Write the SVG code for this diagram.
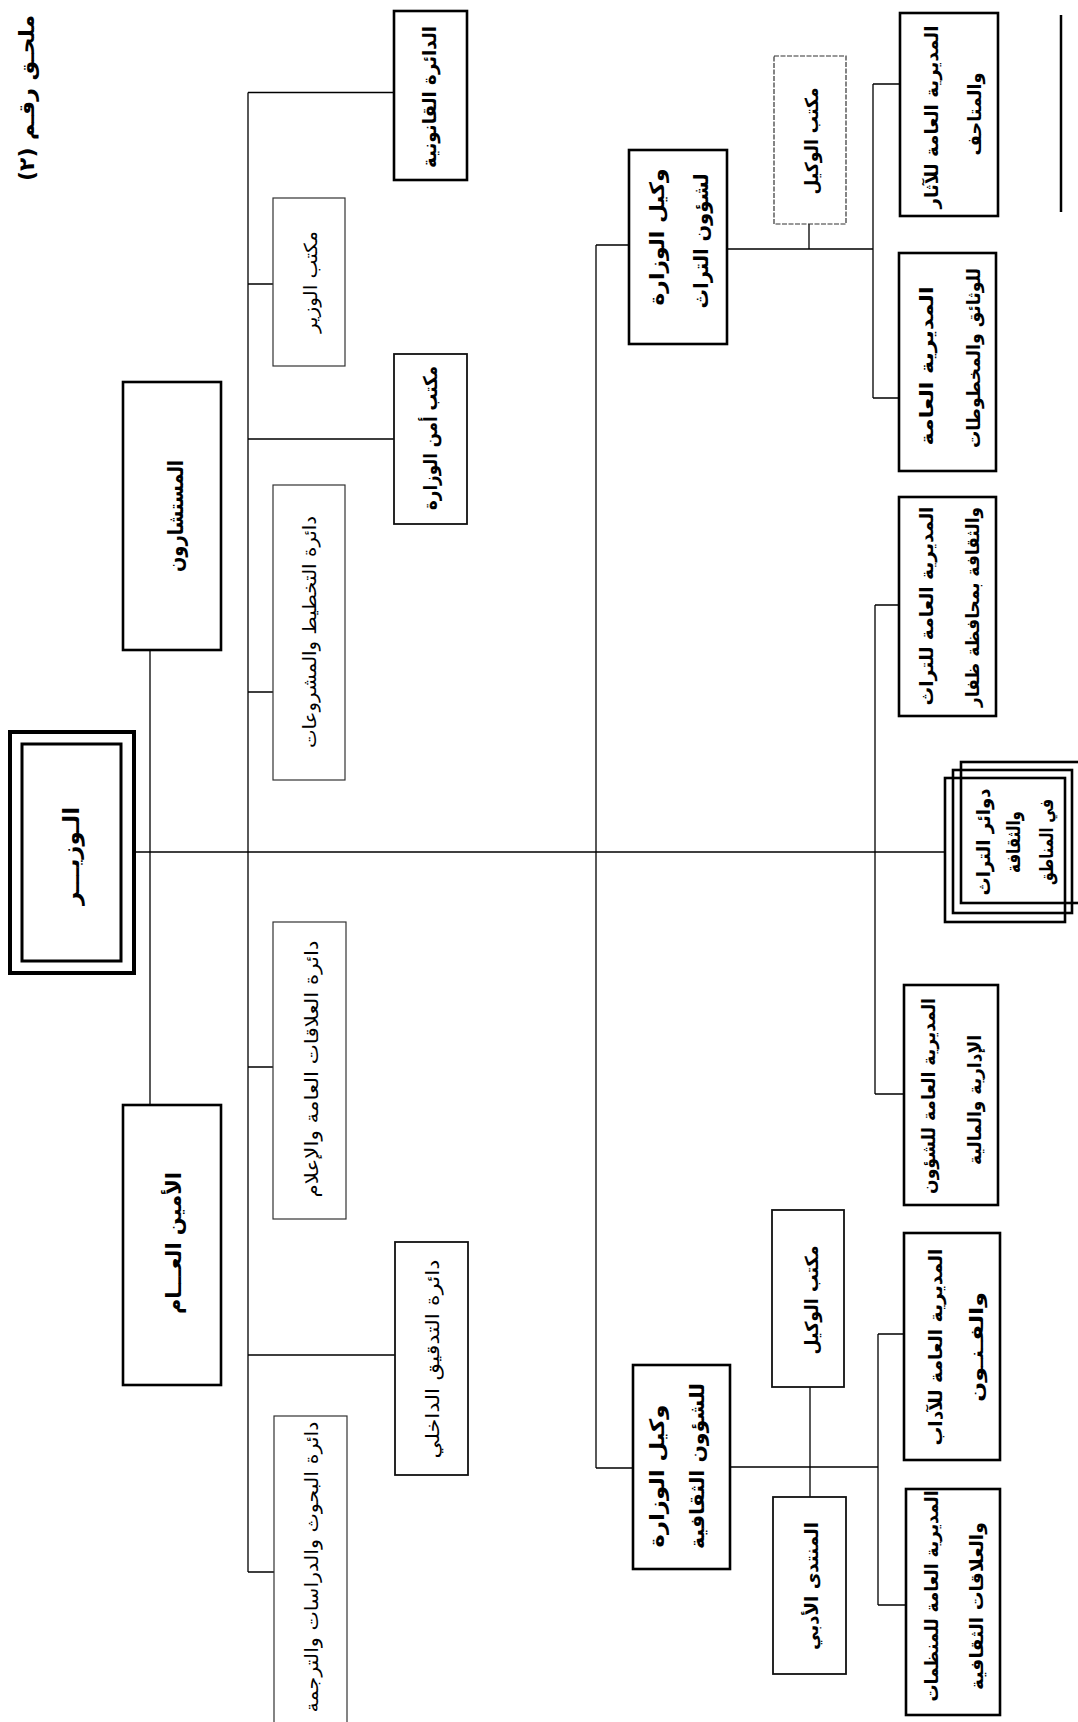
<svg xmlns="http://www.w3.org/2000/svg" width="1078" height="1722" viewBox="0 0 1078 1722">
<style>
.t{font-family:"DejaVu Sans",sans-serif;font-size:18px;fill:#000;text-anchor:middle;dominant-baseline:central;direction:rtl;unicode-bidi:embed}
.b{font-weight:bold}
.thick{fill:none;stroke:#000;stroke-width:2.6}
.med{fill:none;stroke:#111;stroke-width:1.8}
.thin{fill:none;stroke:#333;stroke-width:1.2}
.c{fill:none;stroke:#000;stroke-width:1.3}
</style>
<rect width="1078" height="1722" fill="#fff"/>
<g id="connectors">
<path class="c" d="M248,92.5 V1572 M248,92.5 H394 M248,284 H273 M248,439 H394 M248,692 H273 M248,1067 H273 M248,1355 H395 M248,1572 H274"/>
<path class="c" d="M150,650 V1105"/>
<path class="c" d="M134,852 H944"/>
<path class="c" d="M596,245 V1468 M596,245 H629 M596,1468 H633"/>
<path class="c" d="M727,249 H873 M809,224 V249 M873,84 V398 M873,84 H900 M873,398 H899"/>
<path class="c" d="M875,605 V1094 M875,605 H899 M875,1094 H904"/>
<path class="c" d="M730,1467 H878 M810,1387 V1497 M878,1334 V1605 M878,1334 H904 M878,1605 H906"/>
</g>
<g id="heading"><text class="t b" style="font-size:21px" x="27" y="98" transform="rotate(-90 27 98)" textLength="166" lengthAdjust="spacingAndGlyphs">ملحـق رقـم (٢)</text></g>
<g id="n-qanuni"><rect class="thick" x="394" y="11" width="73" height="169"/><text class="t b" style="font-size:19px" x="429" y="97" transform="rotate(-90 429 97)" textLength="142" lengthAdjust="spacingAndGlyphs">الدائرة القانونية</text></g>
<g id="n-office-minister"><rect class="thin" x="273" y="198" width="72" height="168"/><text class="t" x="310" y="282" transform="rotate(-90 310 282)" textLength="102" lengthAdjust="spacingAndGlyphs">مكتب الوزير</text></g>
<g id="n-advisors"><rect class="thick" x="123" y="382" width="98" height="268"/><text class="t b" style="font-size:21px" x="176" y="516" transform="rotate(-90 176 516)" textLength="112" lengthAdjust="spacingAndGlyphs">المستشارون</text></g>
<g id="n-security"><rect class="med" x="394" y="354" width="73" height="170"/><text class="t b" style="font-size:19px" x="430" y="438" transform="rotate(-90 430 438)" textLength="144" lengthAdjust="spacingAndGlyphs">مكتب أمن الوزارة</text></g>
<g id="n-planning"><rect class="thin" x="273" y="485" width="72" height="295"/><text class="t" x="309" y="632" transform="rotate(-90 309 632)" textLength="232" lengthAdjust="spacingAndGlyphs">دائرة التخطيط والمشروعات</text></g>
<g id="n-minister"><rect fill="none" stroke="#000" stroke-width="4" x="10" y="732" width="124" height="241"/><rect fill="none" stroke="#000" stroke-width="3" x="22" y="744" width="99" height="217"/><text class="t b" style="font-size:22px" x="71" y="856" transform="rotate(-90 71 856)" textLength="98" lengthAdjust="spacingAndGlyphs">الـوزيـــر</text></g>
<g id="n-relations"><rect class="thin" x="273" y="922" width="73" height="297"/><text class="t" x="311" y="1069" transform="rotate(-90 311 1069)" textLength="257" lengthAdjust="spacingAndGlyphs">دائرة العلاقات العامة والإعلام</text></g>
<g id="n-amin"><rect class="thick" x="123" y="1105" width="98" height="280"/><text class="t b" style="font-size:21px" x="174" y="1243" transform="rotate(-90 174 1243)" textLength="142" lengthAdjust="spacingAndGlyphs">الأمين العـــام</text></g>
<g id="n-audit"><rect class="med" x="395" y="1242" width="73" height="233"/><text class="t" x="432" y="1359" transform="rotate(-90 432 1359)" textLength="199" lengthAdjust="spacingAndGlyphs">دائرة التدقيق الداخلي</text></g>
<g id="n-research"><rect class="thin" x="274" y="1416" width="73" height="330"/><text class="t" x="311" y="1567" transform="rotate(-90 311 1567)" textLength="291" lengthAdjust="spacingAndGlyphs">دائرة البحوث والدراسات والترجمة</text></g>
<g id="n-wakil-heritage"><rect class="thick" x="629" y="150" width="98" height="194"/><text class="t b" style="font-size:20px" x="657" y="237" transform="rotate(-90 657 237)" textLength="137" lengthAdjust="spacingAndGlyphs">وكيل الوزارة</text><text class="t b" style="font-size:20px" x="701" y="241" transform="rotate(-90 701 241)" textLength="135" lengthAdjust="spacingAndGlyphs">لشؤون التراث</text></g>
<g id="n-office-wakil1"><rect class="thin" x="774" y="56" width="72" height="168" stroke-dasharray="5 1.5"/><text class="t b" x="811" y="141" transform="rotate(-90 811 141)" textLength="107" lengthAdjust="spacingAndGlyphs">مكتب الوكيل</text></g>
<g id="n-athar"><rect class="thick" x="900" y="13" width="98" height="203"/><text class="t b" x="931" y="117" transform="rotate(-90 931 117)" textLength="183" lengthAdjust="spacingAndGlyphs">المديرية العامة للآثار</text><text class="t b" x="974" y="114" transform="rotate(-90 974 114)" textLength="83" lengthAdjust="spacingAndGlyphs">والمتاحف</text></g>
<g id="n-wathaiq"><rect class="thick" x="899" y="253" width="97" height="218"/><text class="t b" x="926" y="366" transform="rotate(-90 926 366)" textLength="159" lengthAdjust="spacingAndGlyphs">المديرية العامة</text><text class="t b" x="973" y="358" transform="rotate(-90 973 358)" textLength="180" lengthAdjust="spacingAndGlyphs">للوثائق والمخطوطات</text></g>
<g id="n-dhofar"><rect class="thick" x="899" y="497" width="97" height="219"/><text class="t b" x="926" y="606" transform="rotate(-90 926 606)" textLength="199" lengthAdjust="spacingAndGlyphs">المديرية العامة للتراث</text><text class="t b" x="972" y="607" transform="rotate(-90 972 607)" textLength="200" lengthAdjust="spacingAndGlyphs">والثقافة بمحافظة ظفار</text></g>
<g id="n-regions"><rect class="thick" x="961" y="762" width="130" height="141"/><rect class="thick" x="953" y="770" width="119" height="143"/><rect class="thick" x="945" y="778" width="120" height="144"/><text class="t b" style="font-size:19px" x="983" y="842" transform="rotate(-90 983 842)" textLength="107" lengthAdjust="spacingAndGlyphs">دوائر التراث</text><text class="t b" style="font-size:19px" x="1013" y="842" transform="rotate(-90 1013 842)" textLength="62" lengthAdjust="spacingAndGlyphs">والثقافة</text><text class="t b" style="font-size:19px" x="1046" y="842" transform="rotate(-90 1046 842)" textLength="86" lengthAdjust="spacingAndGlyphs">في المناطق</text></g>
<g id="n-idariya"><rect class="thick" x="904" y="985" width="94" height="220"/><text class="t b" x="928" y="1096" transform="rotate(-90 928 1096)" textLength="196" lengthAdjust="spacingAndGlyphs">المديرية العامة للشؤون</text><text class="t b" x="974" y="1100" transform="rotate(-90 974 1100)" textLength="130" lengthAdjust="spacingAndGlyphs">الإدارية والمالية</text></g>
<g id="n-office-wakil2"><rect class="med" x="772" y="1210" width="72" height="177"/><text class="t b" x="811" y="1300" transform="rotate(-90 811 1300)" textLength="109" lengthAdjust="spacingAndGlyphs">مكتب الوكيل</text></g>
<g id="n-adab"><rect class="thick" x="904" y="1233" width="96" height="227"/><text class="t b" x="935" y="1347" transform="rotate(-90 935 1347)" textLength="197" lengthAdjust="spacingAndGlyphs">المديرية العامة للآداب</text><text class="t b" x="976" y="1347" transform="rotate(-90 976 1347)" textLength="110" lengthAdjust="spacingAndGlyphs">والفـنـون</text></g>
<g id="n-wakil-culture"><rect class="thick" x="633" y="1365" width="97" height="204"/><text class="t b" style="font-size:20px" x="657" y="1476" transform="rotate(-90 657 1476)" textLength="143" lengthAdjust="spacingAndGlyphs">وكيل الوزارة</text><text class="t b" style="font-size:20px" x="697" y="1466" transform="rotate(-90 697 1466)" textLength="166" lengthAdjust="spacingAndGlyphs">للشؤون الثقافية</text></g>
<g id="n-muntada"><rect class="med" x="773" y="1497" width="73" height="177"/><text class="t b" x="811" y="1586" transform="rotate(-90 811 1586)" textLength="128" lengthAdjust="spacingAndGlyphs">المنتدى الأدبي</text></g>
<g id="n-munazzamat"><rect class="thick" x="906" y="1489" width="94" height="226"/><text class="t b" x="931" y="1596" transform="rotate(-90 931 1596)" textLength="211" lengthAdjust="spacingAndGlyphs">المديرية العامة للمنظمات</text><text class="t b" x="976" y="1606" transform="rotate(-90 976 1606)" textLength="168" lengthAdjust="spacingAndGlyphs">والعلاقات الثقافية</text></g>
<g id="edge-rule"><path fill="none" stroke="#000" stroke-width="2.5" d="M1061,15 V212"/></g>
</svg>
